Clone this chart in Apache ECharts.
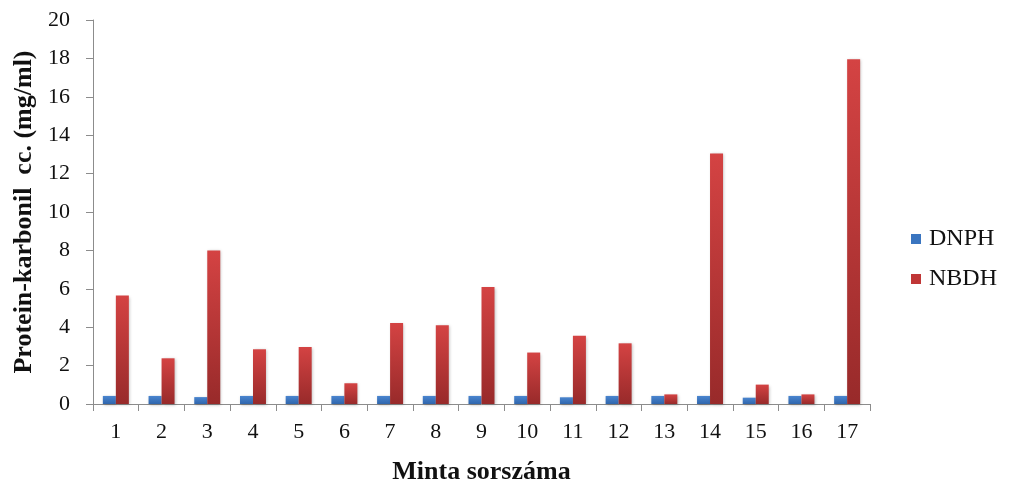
<!DOCTYPE html>
<html>
<head>
<meta charset="utf-8">
<script src="https://cdn.jsdelivr.net/npm/echarts@6/dist/echarts.min.js"></script>
<style>
  html, body { margin: 0; padding: 0; background: #fff; }
  #chart { width: 1010px; height: 483px; }
</style>
</head>
<body>
<div id="chart"></div>
<script>
// Sample numbers (x-axis categories)
const categories = ['1','2','3','4','5','6','7','8','9','10','11','12','13','14','15','16','17'];
// Protein carbonyl concentration, mg/ml
const dnph = [0.42, 0.42, 0.36, 0.42, 0.42, 0.42, 0.42, 0.42, 0.42, 0.42, 0.35, 0.42, 0.42, 0.42, 0.33, 0.42, 0.42];
const nbdh = [5.65, 2.38, 8.0, 2.85, 2.97, 1.08, 4.22, 4.1, 6.1, 2.68, 3.55, 3.16, 0.5, 13.05, 1.01, 0.5, 17.95];
const yTicks = { min: 0, max: 20, interval: 2 };

const serif = '"Liberation Serif", "Times New Roman", serif';

const blueFill = new echarts.graphic.LinearGradient(0, 0, 0, 1, [
  { offset: 0, color: '#4a85cf' },
  { offset: 1, color: '#2f66ad' }
]);
const redFill = new echarts.graphic.LinearGradient(0, 0, 0, 1, [
  { offset: 0, color: '#d44343' },
  { offset: 1, color: '#982a2a' }
]);

const chart = echarts.init(document.getElementById('chart'));
chart.setOption({
  animation: false,
  backgroundColor: '#ffffff',
  grid: { left: 93, right: 140, top: 20, bottom: 79, containLabel: false, outerBoundsMode: 'none' },
  legend: {
    orient: 'vertical',
    left: 906,
    top: 222,
    itemWidth: 10,
    itemHeight: 10,
    itemGap: 16,
    icon: 'rect',
    textStyle: { fontFamily: serif, fontSize: 24, color: '#111', padding: [0, 0, 0, 3] },
    data: [
      { name: 'DNPH', itemStyle: { color: '#3a75c0' } },
      { name: 'NBDH', itemStyle: { color: '#c03636' } }
    ]
  },
  xAxis: {
    type: 'category',
    data: categories,
    name: 'Minta sorszáma',
    nameLocation: 'middle',
    nameGap: 55,
    nameTextStyle: { fontFamily: serif, fontSize: 26, fontWeight: 'bold', color: '#111' },
    axisLine: { lineStyle: { color: '#8c8c8c', width: 1 } },
    axisTick: { show: true, alignWithLabel: false, length: 7, lineStyle: { color: '#8c8c8c' } },
    axisLabel: { fontFamily: serif, fontSize: 22, color: '#111', margin: 17 }
  },
  yAxis: {
    type: 'value',
    min: yTicks.min,
    max: yTicks.max,
    interval: yTicks.interval,
    name: 'Protein-karbonil  cc. (mg/ml)',
    nameLocation: 'middle',
    nameGap: 56,
    nameTextStyle: { fontFamily: serif, fontSize: 26, fontWeight: 'bold', color: '#111' },
    splitLine: { show: false },
    axisLine: { show: true, lineStyle: { color: '#8c8c8c', width: 1 } },
    axisTick: { show: true, length: 7, lineStyle: { color: '#8c8c8c' } },
    axisLabel: { fontFamily: serif, fontSize: 22, color: '#111', margin: 23 }
  },
  series: [
    {
      name: 'DNPH',
      type: 'bar',
      data: dnph,
      barWidth: 13,
      barGap: '0%',
      itemStyle: {
        color: blueFill,
        shadowColor: 'rgba(0,0,0,0.25)',
        shadowBlur: 3,
        shadowOffsetX: 1,
        shadowOffsetY: 1
      }
    },
    {
      name: 'NBDH',
      type: 'bar',
      data: nbdh,
      barWidth: 13,
      barGap: '0%',
      itemStyle: {
        color: redFill,
        shadowColor: 'rgba(0,0,0,0.25)',
        shadowBlur: 3,
        shadowOffsetX: 1,
        shadowOffsetY: 1
      }
    }
  ]
});
</script>
</body>
</html>
